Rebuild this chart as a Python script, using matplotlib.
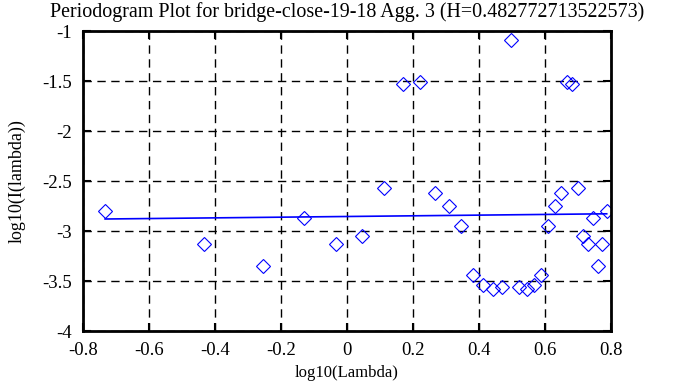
import matplotlib
matplotlib.use("Agg")
import matplotlib.pyplot as plt

# periodogram points
log_lambda = [-0.733, -0.432, -0.256, -0.131, -0.034, 0.045, 0.112, 0.170,
              0.221, 0.267, 0.308, 0.346, 0.381, 0.413, 0.443, 0.471,
              0.497, 0.522, 0.545, 0.568, 0.589, 0.610, 0.629, 0.648,
              0.666, 0.683, 0.700, 0.716, 0.731, 0.746, 0.760, 0.774, 0.787]
log_I = [-2.80, -3.127, -3.35, -2.867, -3.127, -3.05, -2.573, -1.527,
         -1.507, -2.623, -2.747, -2.947, -3.443, -3.543, -3.583, -3.56,
         -1.09, -3.56, -3.583, -3.543, -3.443, -2.947, -2.747, -2.623,
         -1.507, -1.527, -2.573, -3.05, -3.127, -2.867, -3.35, -3.127, -2.80]

# fitted line end points
fit_x = [-0.733, 0.787]
fit_y = [-2.880, -2.828]

xticks = [-0.8, -0.6, -0.4, -0.2, 0, 0.2, 0.4, 0.6, 0.8]
xlabels = ["-0.8", "-0.6", "-0.4", "-0.2", "0", "0.2", "0.4", "0.6", "0.8"]
yticks = [-4, -3.5, -3, -2.5, -2, -1.5, -1]
ylabels = ["-4", "-3.5", "-3", "-2.5", "-2", "-1.5", "-1"]

plt.rcParams['font.family'] = ['Liberation Serif', 'DejaVu Serif']
plt.rcParams['font.size'] = 12

fig = plt.figure(figsize=(6.95, 3.87), dpi=100)
ax = fig.add_axes([83/695, 1-331/387, 528/695, 300/387])

ax.plot(log_lambda, log_I, linestyle='none', marker='D', markersize=6.8,
        markerfacecolor='none', markeredgecolor='#0000ff', markeredgewidth=0.8)
ax.plot(fit_x, fit_y, color='#0000ff', linewidth=1.2)

ax.set_xlim(-0.8, 0.8)
ax.set_ylim(-4, -1)
ax.set_xticks(xticks)
ax.set_xticklabels(xlabels)
ax.set_yticks(yticks)
ax.set_yticklabels(ylabels)
ax.grid(True, color='black', linestyle=(0, (6, 4)), linewidth=1)
ax.tick_params(direction='in', length=6, width=1.5, top=True, right=True,
               labelsize=13.5)
ax.tick_params(axis='x', pad=8)
ax.tick_params(axis='y', pad=8)
for s in ax.spines.values():
    s.set_linewidth(2)

ax.set_xlabel("log10(Lambda)", labelpad=4)
ax.set_ylabel("log10(I(lambda))", fontsize=13, labelpad=12)
ax.set_title("Periodogram Plot for bridge-close-19-18 Agg. 3 (H=0.482772713522573)", pad=10)

fig.savefig("out.png", dpi=100)
